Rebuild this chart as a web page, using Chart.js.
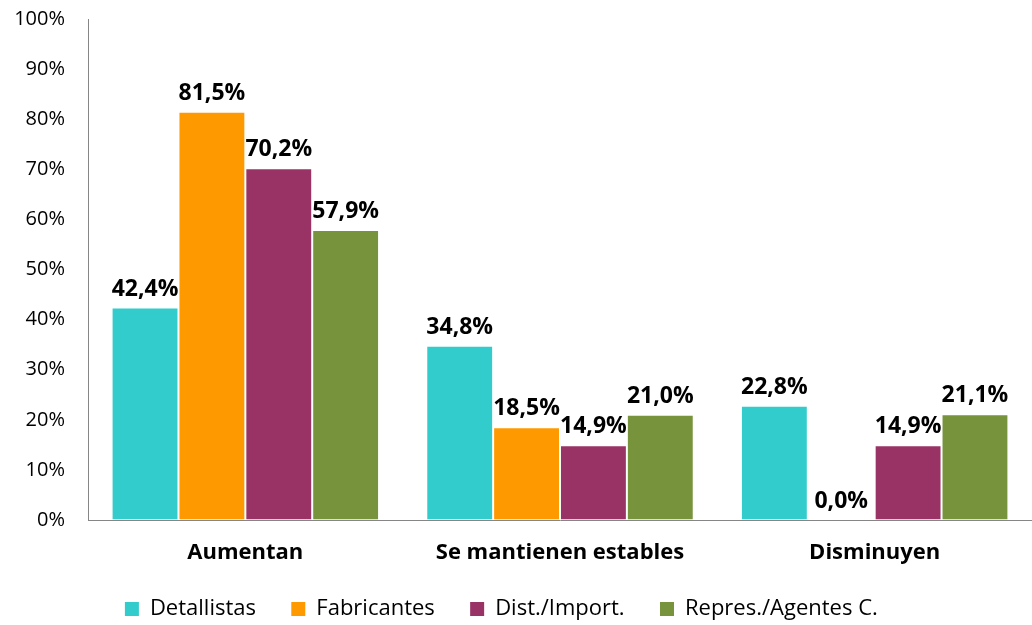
<!DOCTYPE html>
<html>
<head>
<meta charset="utf-8">
<script src="https://cdn.jsdelivr.net/npm/chart.js@4"></script>
<style>
  body { margin: 0; background: #fff; }
  #wrap { width: 1032px; height: 625px; }
</style>
</head>
<body>
<div id="wrap"><canvas id="myChart"></canvas></div>
<script>
var categories = ['Aumentan', 'Se mantienen estables', 'Disminuyen'];
var detallistas = [42.4, 34.8, 22.8];
var fabricantes = [81.5, 18.5, 0.0];
var distImport = [70.2, 14.9, 14.9];
var represAgentes = [57.9, 21.0, 21.1];
var seriesNames = ['Detallistas', 'Fabricantes', 'Dist./Import.', 'Repres./Agentes C.'];
var seriesColors = ['#33CCCC', '#FF9900', '#993366', '#77933C'];

var fontFamily = '"Open Sans", "Noto Sans", sans-serif';

function pct(v) {
  return v.toFixed(1).replace('.', ',') + '%';
}

// value labels above each bar
var valueLabels = {
  id: 'valueLabels',
  afterDatasetsDraw: function(chart) {
    var c = chart.ctx;
    c.save();
    c.font = 'bold 23px ' + fontFamily;
    c.fillStyle = '#000';
    c.textAlign = 'center';
    c.textBaseline = 'alphabetic';
    chart.data.datasets.forEach(function(ds, i) {
      chart.getDatasetMeta(i).data.forEach(function(bar, j) {
        c.fillText(pct(ds.data[j]), bar.x, bar.y - 12);
      });
    });
    c.restore();
  }
};

var ctx = document.getElementById('myChart').getContext('2d');
var myChart = new Chart(ctx, {
  type: 'bar',
  data: {
    labels: categories,
    datasets: [
      { label: seriesNames[0], data: detallistas, backgroundColor: seriesColors[0] },
      { label: seriesNames[1], data: fabricantes, backgroundColor: seriesColors[1] },
      { label: seriesNames[2], data: distImport, backgroundColor: seriesColors[2] },
      { label: seriesNames[3], data: represAgentes, backgroundColor: seriesColors[3] }
    ]
  },
  options: {
    responsive: true,
    maintainAspectRatio: false,
    animation: false,
    datasets: {
      bar: {
        categoryPercentage: 0.85,
        barPercentage: 1,
        borderWidth: 1,
        borderColor: 'rgba(255,255,255,0.5)'
      }
    },
    layout: { padding: { top: 0, right: 0, left: 0, bottom: -5 } },
    plugins: {
      tooltip: { enabled: false },
      legend: {
        position: 'bottom',
        labels: {
          font: { family: fontFamily, size: 22 },
          color: '#000',
          boxWidth: 14,
          boxHeight: 14,
          padding: 6,
          generateLabels: function(chart) {
            var items = Chart.defaults.plugins.legend.labels.generateLabels(chart);
            items.forEach(function(it) {
              it.lineWidth = 0;
              it.text = it.text + '\u2003\u2004';
            });
            return items;
          }
        }
      }
    },
    scales: {
      x: {
        grid: { display: false },
        border: { display: true, color: '#868686' },
        ticks: {
          font: { family: fontFamily, size: 22, weight: 'bold' },
          color: '#000',
          padding: 12
        },
        afterFit: function(s) { s.height = 72; }
      },
      y: {
        min: 0,
        max: 100,
        grid: { display: true, drawOnChartArea: false, color: 'rgba(0,0,0,0)', tickLength: 16 },
        border: { display: true, color: '#868686' },
        ticks: {
          stepSize: 10,
          font: { family: fontFamily, size: 20 },
          color: '#000',
          padding: 7,
          callback: function(v) { return v + '%'; }
        },
        afterFit: function(s) { s.width = 88; }
      }
    }
  },
  plugins: [valueLabels]
});
</script>
</body>
</html>
